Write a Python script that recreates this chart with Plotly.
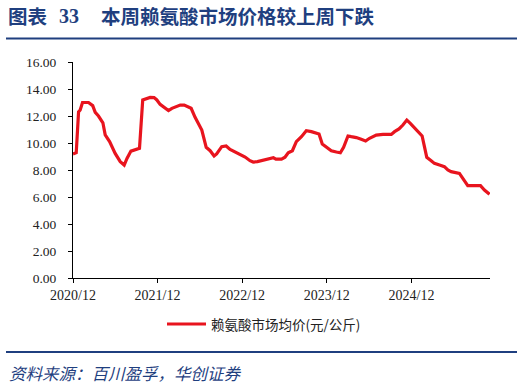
import plotly.graph_objects as go

dates = [
    "2020-12-01", "2020-12-15", "2020-12-25", "2021-01-01", "2021-01-11", "2021-02-06",
    "2021-02-24", "2021-03-07", "2021-03-21", "2021-04-09", "2021-04-19", "2021-05-08",
    "2021-06-01", "2021-06-23", "2021-07-10", "2021-07-22", "2021-08-08", "2021-08-27",
    "2021-09-14", "2021-09-28", "2021-10-13", "2021-10-30", "2021-11-16", "2021-11-28",
    "2021-12-12", "2022-01-03", "2022-01-17", "2022-02-01", "2022-02-15", "2022-03-09",
    "2022-03-26", "2022-04-13", "2022-04-25", "2022-05-12", "2022-05-27", "2022-06-10",
    "2022-06-29", "2022-07-16", "2022-08-02", "2022-08-13", "2022-09-04", "2022-09-23",
    "2022-10-10", "2022-10-31", "2022-11-22", "2022-12-14", "2023-01-04", "2023-01-18",
    "2023-02-05", "2023-03-02", "2023-03-24", "2023-04-15", "2023-04-26", "2023-05-20",
    "2023-06-04", "2023-06-18", "2023-07-06", "2023-07-23", "2023-08-14", "2023-09-04",
    "2023-09-26", "2023-10-17", "2023-10-29", "2023-11-12", "2023-11-30", "2023-12-21",
    "2024-01-12", "2024-01-29", "2024-02-12", "2024-03-02", "2024-03-16", "2024-04-07",
    "2024-04-28", "2024-05-17", "2024-06-03", "2024-07-02", "2024-07-31", "2024-09-05",
    "2024-09-19", "2024-10-08", "2024-10-25", "2024-11-11", "2024-11-26", "2024-12-14",
    "2025-01-02", "2025-01-16", "2025-01-26", "2025-02-05", "2025-02-24", "2025-03-10",
    "2025-04-01", "2025-04-22", "2025-05-07", "2025-05-21", "2025-06-26", "2025-07-11",
    "2025-08-01", "2025-08-30", "2025-09-25", "2025-10-12", "2025-11-03",
]
prices = [
    9.19, 9.28, 12.30, 12.44, 13.00, 13.00,
    12.77, 12.27, 12.00, 11.50, 10.60, 10.10,
    9.23, 8.62, 8.37, 8.86, 9.40, 9.48,
    9.60, 13.19, 13.26, 13.38, 13.36, 13.19,
    12.86, 12.57, 12.40, 12.57, 12.64, 12.81,
    12.81, 12.69, 12.57, 11.90, 11.46, 10.96,
    9.68, 9.43, 9.04, 9.19, 9.73, 9.78,
    9.53, 9.33, 9.14, 8.96, 8.69, 8.59,
    8.62, 8.74, 8.81, 8.91, 8.81, 8.81,
    8.95, 9.28, 9.43, 10.10, 10.47, 10.91,
    10.84, 10.77, 10.67, 9.93, 9.68, 9.43,
    9.33, 9.28, 9.68, 10.52, 10.47, 10.40,
    10.27, 10.15, 10.35, 10.59, 10.64, 10.64,
    10.84, 11.04, 11.33, 11.70, 11.46, 11.14,
    10.79, 10.52, 9.73, 8.94, 8.69, 8.49,
    8.37, 8.25, 8.00, 7.88, 7.75, 7.38,
    6.84, 6.84, 6.84, 6.52, 6.20,
]
tick_dates = ["2020-12-01", "2021-12-01", "2022-12-01", "2023-12-01", "2024-12-01"]
tick_labels = ["2020/12", "2021/12", "2022/12", "2023/12", "2024/12"]
series_name = "赖氨酸市场均价(元/公斤)"
title_prefix = "图表"
title_num = "33"
title_text = "本周赖氨酸市场价格较上周下跌"
source_text = "资料来源：百川盈孚，华创证券"

W, H = 524, 387
ML, MR, MT, MB = 73, 34, 62, 109
PW, PH = W - ML - MR, H - MT - MB


def px(x):
    return (x - ML) / PW


def py(y):
    return (H - MB - y) / PH


RED = "#E8141E"
BLUE = "#1F3F7F"
SERIF = "Liberation Serif, Times New Roman, serif"
CJK = "Noto Sans CJK SC"

fig = go.Figure()
fig.add_trace(go.Scatter(
    x=dates, y=prices, mode="lines", name=series_name,
    line=dict(color=RED, width=3.2, shape="linear"),
    showlegend=False,
))

fig.update_layout(
    width=W, height=H,
    margin=dict(l=ML, r=MR, t=MT, b=MB),
    paper_bgcolor="white", plot_bgcolor="white",
    xaxis=dict(
        type="date", range=["2020-12-01", "2025-11-05"],
        tickvals=tick_dates, ticktext=tick_labels,
        showgrid=False, zeroline=False,
        showline=True, linecolor="black", linewidth=1,
        ticks="outside", ticklen=4, tickcolor="black", tickwidth=1,
        tickfont=dict(family=SERIF, size=14, color="#222"),
    ),
    yaxis=dict(
        range=[0, 16], dtick=2, tick0=0, tickformat=".2f",
        showgrid=False, zeroline=False,
        showline=True, linecolor="black", linewidth=1,
        ticks="outside", ticklen=4, tickcolor="black", tickwidth=1,
        tickfont=dict(family=SERIF, size=13.5, color="#222"),
        ticklabelstandoff=9,
    ),
)

shapes = [
    dict(type="line", xref="paper", yref="paper", x0=px(6), x1=px(517), y0=py(38.5), y1=py(38.5),
         line=dict(color=BLUE, width=2.2)),
    dict(type="line", xref="paper", yref="paper", x0=px(6), x1=px(517), y0=py(352), y1=py(352),
         line=dict(color=BLUE, width=2.2)),
    dict(type="line", xref="paper", yref="paper", x0=px(167), x1=px(206), y0=py(324), y1=py(324),
         line=dict(color=RED, width=3.2)),
]
fig.update_layout(shapes=shapes)

ann = [
    dict(text=f"<b>{title_prefix}</b>", x=px(6), y=py(16), xanchor="left", yanchor="middle",
         font=dict(family=CJK, size=19.5, color=BLUE)),
    dict(text=f"<b>{title_num}</b>", x=px(57), y=py(16), xanchor="left", yanchor="middle",
         font=dict(family=SERIF, size=20, color=BLUE)),
    dict(text=f"<b>{title_text}</b>", x=px(99), y=py(16), xanchor="left", yanchor="middle",
         font=dict(family=CJK, size=19.5, color=BLUE)),
    dict(text=series_name, x=px(209), y=py(324), xanchor="left", yanchor="middle",
         font=dict(family=CJK, size=13.5, color="#222")),
    dict(text=f"<i>{source_text}</i>", x=px(7), y=py(373), xanchor="left", yanchor="middle",
         font=dict(family=CJK, size=16.5, color=BLUE)),
]
for a in ann:
    a.update(xref="paper", yref="paper", showarrow=False)
fig.update_layout(annotations=ann)

fig.write_html("out.html")
